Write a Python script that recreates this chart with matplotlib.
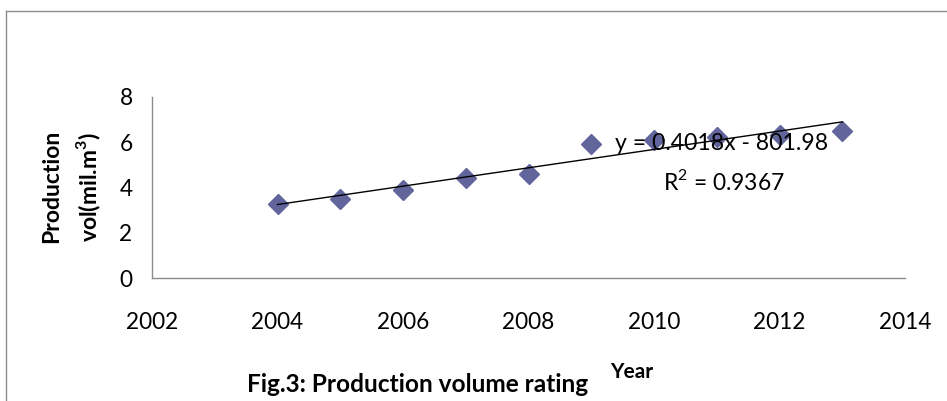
import matplotlib
matplotlib.use("Agg")
import matplotlib.pyplot as plt
import numpy as np
from matplotlib.lines import Line2D

years = [2004, 2005, 2006, 2007, 2008, 2009, 2010, 2011, 2012, 2013]
volume = [3.29, 3.49, 3.89, 4.40, 4.59, 5.90, 6.09, 6.24, 6.31, 6.50]
x_ticks = [2002, 2004, 2006, 2008, 2010, 2012, 2014]
y_ticks = [0, 2, 4, 6, 8]
eq_text = "y = 0.4018x - 801.98"
r2_text = "R$^2$ = 0.9367"

plt.rcParams['font.family'] = ['Lato', 'DejaVu Sans']
plt.rcParams['mathtext.fontset'] = 'custom'
plt.rcParams['mathtext.rm'] = 'Lato'
plt.rcParams['mathtext.bf'] = 'Lato:bold'

fig = plt.figure(figsize=(9.47, 4.01), dpi=100)
ax = fig.add_axes([152/947, 1-278.3/401, (905-152)/947, (278.3-96.7)/401])

ax.plot(years, volume, linestyle='none', marker='D', markersize=10,
        color='#62649C', zorder=3)
coef = np.polyfit(years, volume, 1)
xs = np.array([years[0], years[-1]])
ax.plot(xs, np.polyval(coef, xs), color='black', lw=1, zorder=4)

ax.set_xlim(2002, 2014)
ax.set_ylim(0, 8)
ax.set_xticks(x_ticks)
ax.set_yticks(y_ticks)
ax.tick_params(axis='both', length=0, labelsize=16.3)
ax.tick_params(axis='x', pad=24)
ax.tick_params(axis='y', pad=14)
for s in ['top', 'right']:
    ax.spines[s].set_visible(False)
for s in ['left', 'bottom']:
    ax.spines[s].set_color('#8c8c8c')
    ax.spines[s].set_linewidth(1)

ax.text(615/947, 1-143/401, eq_text, transform=fig.transFigure, fontsize=16.6,
        ha='left', va='center', zorder=5)
ax.text(663/947, 1-181/401, r2_text, transform=fig.transFigure, fontsize=16.4,
        ha='left', va='center', zorder=5)

fig.text(52/947, 1-186/401, "Production", rotation=90, fontsize=16.5,
         fontweight='bold', ha='center', va='center')
fig.text(89/947, 1-187/401, "vol(mil.m$^\\mathbf{3}$)", rotation=90, fontsize=16.5,
         fontweight='bold', ha='center', va='center')

fig.text(247/947, 1-385/401, "Fig.3: Production volume rating", fontsize=17.6,
         fontweight='bold', ha='left', va='center')
fig.text(632/947, 1-372/401, "Year", fontsize=15,
         fontweight='bold', ha='center', va='center')

fig.add_artist(Line2D([6/947, 6/947], [0, 1-11/401], transform=fig.transFigure,
                      color='#8c8c8c', lw=1))
fig.add_artist(Line2D([6/947, 1], [1-11/401, 1-11/401], transform=fig.transFigure,
                      color='#8c8c8c', lw=1))

fig.savefig("out.png", dpi=100)
